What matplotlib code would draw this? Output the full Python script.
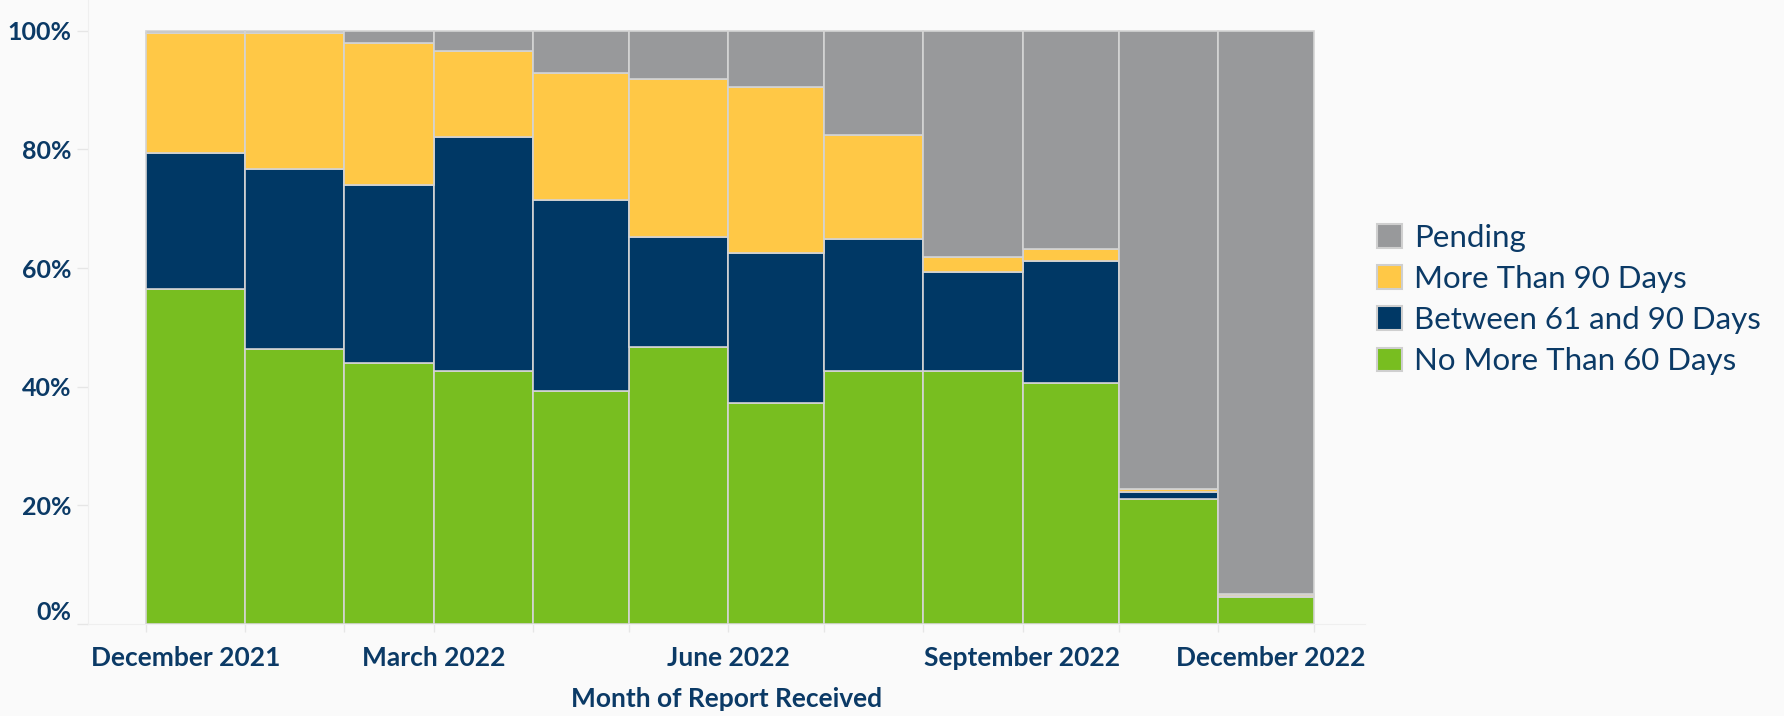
import matplotlib
matplotlib.use("Agg")
import matplotlib.pyplot as plt
import matplotlib.dates as mdates
from matplotlib.patches import Patch
from matplotlib.transforms import ScaledTranslation
import pandas as pd
import numpy as np

# ---- data ----
months = ["2021-12", "2022-01", "2022-02", "2022-03", "2022-04", "2022-05",
          "2022-06", "2022-07", "2022-08", "2022-09", "2022-10", "2022-11"]
no_more_60 = [56.5, 46.4, 44.0, 42.7, 39.3, 46.7, 37.2, 42.6, 42.6, 40.6, 21.1, 4.5]
between_61_90 = [22.9, 30.3, 30.0, 39.4, 32.1, 18.6, 25.4, 22.3, 16.8, 20.6, 1.2, 0.2]
more_90 = [20.2, 22.9, 23.9, 14.5, 21.5, 26.6, 27.9, 17.5, 2.5, 2.0, 0.5, 0.3]
pending = [0.4, 0.4, 2.1, 3.4, 7.1, 8.1, 9.5, 17.6, 38.1, 36.8, 77.2, 95.0]
series_names = ["No More Than 60 Days", "Between 61 and 90 Days", "More Than 90 Days", "Pending"]
colors = ["#78BE20", "#003865", "#FFC846", "#98999B"]
x_labels = ["December 2021", "March 2022", "June 2022", "September 2022", "December 2022"]
x_label_dates = ["2021-12-01", "2022-03-01", "2022-06-01", "2022-09-01", "2022-12-01"]
y_ticks = [0, 20, 40, 60, 80, 100]

TXT = "#0B3A66"
BG = "#FAFAFA"
EDGE = "#D4D4D4"

plt.rcParams["font.family"] = ["Lato", "DejaVu Sans"]

fig = plt.figure(figsize=(17.84, 7.16), dpi=100, facecolor=BG)
W, H = 1784, 716
ax_left, ax_right, ax_top, ax_bot = 88, 1365, 0, 624
ax = fig.add_axes([ax_left / W, 1 - ax_bot / H, (ax_right - ax_left) / W, (ax_bot - ax_top) / H])
ax.set_facecolor(BG)

starts = pd.to_datetime([m + "-01" for m in months])
ends = starts + pd.offsets.MonthBegin(1)
x0 = mdates.date2num(starts)
widths = mdates.date2num(ends) - x0

bottom = np.zeros(len(months))
for vals, c in zip([no_more_60, between_61_90, more_90, pending], colors):
    v = np.array(vals)
    ax.bar(x0, v, width=widths, bottom=bottom, align="edge", color=c,
           edgecolor=EDGE, linewidth=1.2)
    bottom += v

# x range: ~18 days before first month to ~17 days after last month end
xmin = mdates.date2num(pd.Timestamp("2021-11-13"))
xmax = mdates.date2num(pd.Timestamp("2022-12-17"))
ax.set_xlim(xmin, xmax)
ax.set_ylim(0, 100 * 624 / (624 - 30.7))

# x ticks at every month boundary, no labels
tick_pos = list(x0) + [mdates.date2num(ends[-1])]
ax.set_xticks(tick_pos)
ax.set_xticklabels([])
ax.tick_params(axis="x", length=6, color="#E6E6E6", width=1)

# y ticks
ax.set_yticks(y_ticks)
ax.set_yticklabels([f"{t}%" for t in y_ticks], fontsize=18, fontweight="bold", color=TXT)
ax.tick_params(axis="y", length=8, color="#E6E6E6", width=1, pad=4)
lab0 = ax.get_yticklabels()[0]
lab0.set_transform(lab0.get_transform() + ScaledTranslation(0, 0.13, fig.dpi_scale_trans))

for s in ["top", "right"]:
    ax.spines[s].set_visible(False)
ax.spines["left"].set_color("#EFEFEF")
ax.spines["bottom"].set_color("#EFEFEF")

# x tick labels (edge labels kept inside axis range)
trans = ax.get_xaxis_transform()
for i, (lab, d) in enumerate(zip(x_labels, x_label_dates)):
    xd = mdates.date2num(pd.Timestamp(d))
    ha = "center"
    if i == 0:
        xd, ha = xmin + 1, "left"
    elif i == len(x_labels) - 1:
        xd, ha = xmax, "right"
    ax.text(xd, -0.055, lab, transform=trans, ha=ha, va="center",
            fontsize=19, fontweight="bold", color=TXT)

ax.set_xlabel("Month of Report Received", fontsize=19, fontweight="bold", color=TXT, labelpad=36)

# legend (Pending at top)
handles = [Patch(facecolor=c, edgecolor="#CFCFCF", linewidth=1.5) for c in colors][::-1]
leg = fig.legend(handles, series_names[::-1], loc="upper left",
                 bbox_to_anchor=(1377 / W, 1 - 224 / H), frameon=False,
                 fontsize=22.5, handlelength=0.8, handleheight=0.8,
                 handletextpad=0.4, labelspacing=0.42, borderpad=0, borderaxespad=0)
for t in leg.get_texts():
    t.set_color(TXT)

fig.savefig("out.png", dpi=100, facecolor=BG)
